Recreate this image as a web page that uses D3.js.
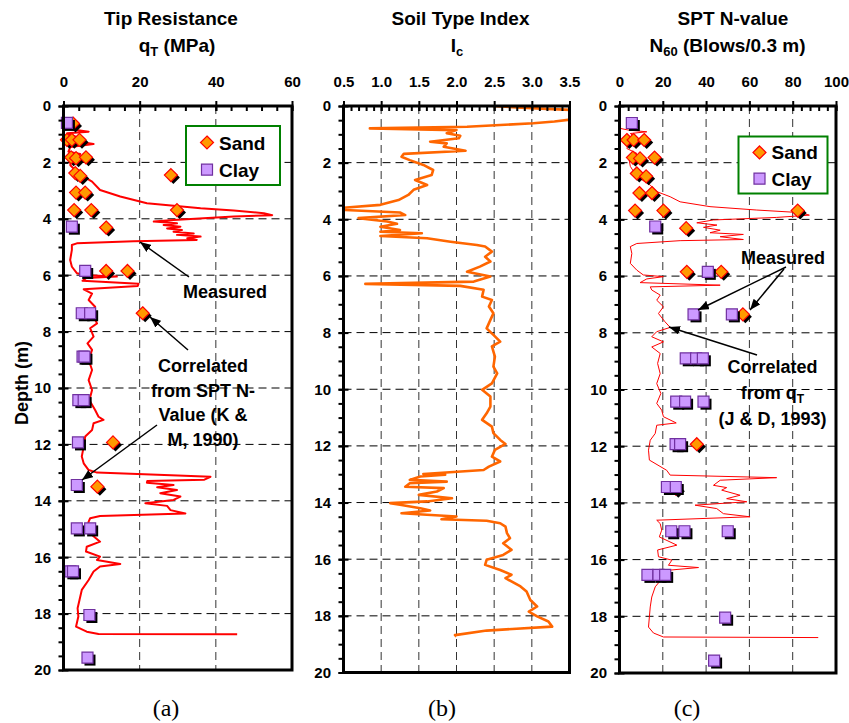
<!DOCTYPE html>
<html><head><meta charset="utf-8">
<script src="https://cdn.jsdelivr.net/npm/d3@7"></script>
<style>
body{margin:0;background:#fff}
svg{display:block}
text{font-family:"Liberation Sans",Arial,sans-serif}
</style>
</head><body>
<svg id="chart" width="849" height="723"></svg>
<script>
// ---------------- DATA ----------------
// Measured cone tip resistance qT (MPa) vs depth (m): [depth, value]
const qtMeasured = [[0,0.2],[0.3,0],[0.6,0.5],[0.8,0.6],[0.91,6.6],[0.97,1],[1.15,4.4],[1.2,0.8],[1.35,7.9],[1.45,1.8],[1.62,1.3],[1.7,4.4],[1.8,1.8],[2.1,1.8],[2.39,3.9],[2.68,7.5],[2.98,9.6],[3.21,14.9],[3.45,21.9],[3.63,36],[3.71,44.7],[3.8,52.6],[3.87,54.8],[3.92,44.7],[4.04,28.9],[4.1,23.7],[4.16,29.8],[4.22,26.3],[4.28,30.7],[4.34,27.2],[4.4,31.1],[4.46,28.9],[4.52,34.2],[4.57,29.8],[4.63,36],[4.69,32.5],[4.75,35],[4.8,18.4],[4.87,3.5],[4.93,2.2],[5.1,2.2],[5.46,1.75],[5.7,2.2],[5.93,3.5],[6.0,6.1],[6.05,14],[6.1,6],[6.2,5],[6.3,19.7],[6.38,19.5],[6.5,5.3],[6.65,7.5],[6.88,6.6],[7.12,8.3],[7.35,7.5],[7.71,8.8],[7.88,7.0],[8.18,7.9],[8.42,6.3],[8.65,7.5],[9.0,6.6],[9.36,7.5],[9.72,6.6],[10.07,7.5],[10.43,6.8],[10.78,8.3],[11.02,9.2],[11.13,10.5],[11.25,7.9],[11.49,7.5],[11.72,5.7],[12.08,5.3],[12.43,4.8],[12.67,5.3],[12.91,6.6],[13.0,8.8],[13.1,30],[13.15,38.6],[13.25,37],[13.3,22],[13.36,21.9],[13.44,28.9],[13.52,24.6],[13.62,29.8],[13.73,25.4],[13.85,30.7],[13.97,28.9],[14.09,21.5],[14.18,27.2],[14.33,28.1],[14.45,32],[14.54,9.6],[14.62,7],[14.74,6.6],[14.98,6.3],[15.21,7.5],[15.45,9.6],[15.63,6.1],[15.8,5.9],[15.98,9.6],[16.1,8.8],[16.24,14.9],[16.33,9.6],[16.51,7.9],[16.81,6.6],[17.16,4.8],[17.52,4.2],[17.81,3.7],[18.1,3.9],[18.46,3.3],[18.64,6.1],[18.72,9.2],[18.73,45.6]];
// qT correlated from SPT N-value (K & M, 1990)
const qtSand = [[0.62,2.5],[1.2,0.9],[1.2,2.2],[1.2,4.2],[1.82,2.0],[1.85,3.3],[1.82,5.9],[2.38,3.1],[2.48,4.4],[2.45,28.2],[3.07,3.3],[3.07,5.7],[3.69,2.8],[3.69,7.3],[3.69,29.8],[4.31,11.2],[5.85,11.2],[5.85,16.8],[7.35,20.8],[11.93,13],[13.5,8.9]];
const qtClay = [[0.6,0.9],[4.28,2.2],[5.85,5.7],[7.35,4.8],[7.35,7.0],[8.89,5.0],[8.89,5.5],[10.43,3.9],[10.43,5.3],[11.93,3.8],[13.44,3.5],[14.98,3.5],[14.98,7.0],[16.5,1.8],[16.5,2.5],[18.05,6.8],[19.56,6.3]];
// Soil type index Ic
const icProfile = [[0,2.48],[0.05,2.8],[0.1,3.2],[0.15,3.6],[0.45,3.6],[0.55,3.3],[0.61,3.02],[0.67,2.58],[0.73,2.14],[0.79,0.85],[0.85,2.0],[0.96,1.87],[1.05,2.05],[1.14,2.03],[1.26,1.65],[1.32,1.87],[1.44,1.83],[1.58,2.12],[1.69,1.3],[1.79,1.27],[1.91,1.38],[2.08,1.56],[2.26,1.69],[2.44,1.67],[2.61,1.45],[2.79,1.61],[2.96,1.43],[3.14,1.36],[3.32,1.23],[3.49,0.99],[3.59,0.5],[3.67,0.52],[3.76,1.25],[3.85,1.32],[3.96,0.7],[4.08,1.08],[4.16,1.21],[4.26,0.99],[4.38,1.25],[4.44,0.99],[4.49,1.54],[4.59,0.99],[4.67,1.61],[4.79,1.92],[4.91,2.27],[4.96,2.38],[5.14,2.47],[5.32,2.38],[5.49,2.45],[5.67,2.31],[5.85,2.14],[6.02,2.45],[6.2,2.23],[6.28,0.79],[6.35,2.05],[6.49,2.36],[6.73,2.34],[6.85,2.47],[7.08,2.43],[7.32,2.49],[7.55,2.45],[7.85,2.4],[8.08,2.49],[8.32,2.58],[8.49,2.47],[8.85,2.51],[9.2,2.49],[9.44,2.54],[9.79,2.47],[10.02,2.34],[10.26,2.45],[10.61,2.45],[10.85,2.4],[11.08,2.34],[11.32,2.47],[11.55,2.49],[11.79,2.58],[11.93,2.65],[12.14,2.51],[12.38,2.47],[12.55,2.58],[12.73,2.43],[12.85,2.36],[12.99,1.56],[13.02,1.85],[13.08,1.52],[13.2,1.38],[13.26,1.87],[13.32,1.38],[13.44,1.32],[13.49,1.83],[13.61,1.74],[13.73,1.5],[13.85,1.94],[13.96,1.61],[14.02,1.12],[14.08,1.25],[14.2,1.52],[14.28,1.65],[14.38,1.27],[14.49,2.0],[14.59,1.8],[14.64,2.4],[14.73,2.58],[14.85,2.65],[15.08,2.67],[15.26,2.71],[15.44,2.62],[15.67,2.73],[15.85,2.62],[16.02,2.4],[16.2,2.38],[16.38,2.58],[16.55,2.73],[16.67,2.65],[16.96,2.85],[17.14,2.93],[17.44,2.98],[17.67,3.07],[17.85,2.96],[18.02,3.07],[18.2,3.22],[18.38,3.27],[18.52,2.4],[18.68,1.98],[18.73,2.0]];
// N60 correlated from qT (J & D, 1993)
const nCorrelated = [[0,0],[0.79,0.3],[0.85,4.2],[0.91,12.6],[0.97,5],[1.15,8],[1.26,14.2],[1.34,4.2],[1.5,3.4],[1.67,8],[1.79,4.2],[2.13,5],[2.49,8],[2.79,14.2],[3.02,17.2],[3.2,23.4],[3.38,28],[3.55,41.8],[3.67,63.4],[3.76,83.4],[3.85,87.7],[3.93,72.6],[4.02,43.4],[4.12,35.7],[4.2,45],[4.28,38.8],[4.38,46.5],[4.47,41.8],[4.53,57.2],[4.61,46.5],[4.71,57.2],[4.75,28],[4.85,8],[4.96,5],[5.2,5.7],[5.55,5],[5.79,8],[5.96,11],[6.02,20.3],[6.1,12.6],[6.23,9.5],[6.32,46.5],[6.38,14.2],[6.49,14.9],[6.67,18.8],[6.85,17.2],[7.08,20.3],[7.32,18],[7.61,21],[7.81,23.4],[7.96,17.2],[8.14,14.9],[8.32,20.3],[8.5,14.9],[8.73,18.8],[9.08,17.6],[9.44,18.8],[9.79,17.2],[10.14,19.1],[10.49,17.2],[10.73,19.5],[10.96,20.3],[11.18,26.2],[11.26,17.2],[11.55,16.5],[11.79,14.2],[12.14,13.4],[12.49,13.8],[12.85,21.8],[13.02,23.4],[13.11,72.6],[13.2,46.5],[13.38,43.4],[13.46,49.5],[13.55,47.2],[13.73,55.7],[13.85,49.5],[13.96,58.8],[14.08,34.9],[14.2,44.9],[14.38,48],[14.49,60.3],[14.61,17.2],[14.73,18.8],[14.96,19.5],[15.2,18.4],[15.49,26.5],[15.66,17.6],[15.9,18],[16.02,24.2],[16.2,22.6],[16.28,36.5],[16.37,23.4],[16.61,20.3],[16.96,16.5],[17.32,14.9],[17.67,14.2],[18.02,13.8],[18.38,13.4],[18.59,15.7],[18.73,20.3],[18.75,91.8]];
// Measured SPT N60
const nSand = [[1.2,3.4],[1.2,6.5],[1.2,11.4],[1.82,6.2],[1.85,9.5],[1.82,16.2],[2.38,8],[2.48,12.3],[3.07,9.2],[3.07,15],[3.69,7.2],[3.69,20.3],[3.69,82.3],[4.31,30.8],[5.85,31.1],[5.85,47],[7.35,57],[11.93,35.7],[13.5,26]];
const nClay = [[0.6,5.7],[4.25,16.5],[5.85,40.8],[7.35,34.2],[7.35,51.9],[8.9,30.6],[8.9,35.4],[8.9,38.5],[10.43,26.2],[10.43,30.3],[10.43,38.8],[11.93,25.9],[11.93,28],[13.44,21.9],[13.44,26],[15.0,23.9],[15.0,30],[15.0,50],[16.54,12.9],[16.54,18],[16.54,21.1],[18.05,48.8],[19.56,43.7]];
// Tick values
const depthTicks = d3.range(0, 20.01, 2);
const depthMinor = d3.range(0, 20.01, 0.5);
const depthGrid = d3.range(2, 19, 2);
const qtTicks = [0, 20, 40, 60];
const qtMinor = d3.range(0, 60.01, 4);
const qtGrid = [20, 40];
const icTicks = [0.5, 1.0, 1.5, 2.0, 2.5, 3.0, 3.5];
const icMinor = d3.range(5, 35.01, 1).map(v => v / 10);
const icGrid = [1.0, 1.5, 2.0, 2.5, 3.0];
const nTicks = [0, 20, 40, 60, 80, 100];
const nMinor = d3.range(0, 100.01, 4);
const nGrid = [20, 40, 60, 80];

// ---------------- DRAW ----------------
const svg = d3.select("#chart");
const defs = svg.append("defs");
defs.append("marker").attr("id", "arr").attr("viewBox", "0 0 10 8")
  .attr("refX", 10).attr("refY", 4).attr("markerWidth", 11).attr("markerHeight", 9)
  .attr("markerUnits", "userSpaceOnUse").attr("orient", "auto")
  .append("path").attr("d", "M0,0 L10,4 L0,8 Z").attr("fill", "#000");

const diamondPath = "M0,-6.5 L6.5,0 L0,6.5 L-6.5,0 Z";
const squarePath = "M-5.5,-5.5 H5.5 V5.5 H-5.5 Z";

function drawPanel(o) {
  const x = d3.scaleLinear().domain(o.xDomain).range([o.left, o.right]);
  const y = d3.scaleLinear().domain([0, 20]).range([o.top, o.bottom]);
  const g = svg.append("g");
  const clipId = "clip" + o.id;
  defs.append("clipPath").attr("id", clipId).append("rect")
    .attr("x", o.left).attr("y", o.top).attr("width", o.right - o.left).attr("height", o.bottom - o.top);

  // grid
  g.append("g").selectAll("line").data(depthGrid).join("line")
    .attr("x1", o.left).attr("x2", o.right).attr("y1", d => y(d)).attr("y2", d => y(d))
    .attr("stroke", "#000").attr("stroke-width", 1).attr("stroke-dasharray", "8,5");
  g.append("g").selectAll("line").data(o.grid).join("line")
    .attr("y1", o.top).attr("y2", o.bottom).attr("x1", d => x(d)).attr("x2", d => x(d))
    .attr("stroke", "#333").attr("stroke-width", 1).attr("stroke-dasharray", "8,5");

  // line
  const line = d3.line().x(d => x(d[1])).y(d => y(d[0]));
  g.append("path").datum(o.line).attr("d", line).attr("fill", "none")
    .attr("stroke", o.lineColor).attr("stroke-width", o.lineWidth)
    .attr("stroke-linejoin", "round").attr("clip-path", `url(#${clipId})`);

  // markers
  function markers(data, path, fill, stroke) {
    const mg = g.append("g");
    data.forEach(d => {
      mg.append("path").attr("d", path).attr("transform", `translate(${x(d[1]) + 2.5},${y(d[0]) + 2.5})`).attr("fill", "#000");
      mg.append("path").attr("d", path).attr("transform", `translate(${x(d[1])},${y(d[0])})`)
        .attr("fill", fill).attr("stroke", stroke).attr("stroke-width", 1.2);
    });
  }
  if (o.sand) markers(o.sand, diamondPath, "#FF9900", "#FF0000");
  if (o.clay) markers(o.clay, squarePath, "#CC99FF", "#7030A0");

  // axes
  const fmt = o.fmt;
  const topMaj = g.append("g").attr("transform", `translate(0,${o.top})`)
    .call(d3.axisTop(x).tickValues(o.ticks).tickSize(5).tickPadding(13.7).tickFormat(fmt));
  g.append("g").attr("transform", `translate(0,${o.top})`)
    .call(d3.axisTop(x).tickValues(o.ticks).tickSize(-5).tickFormat(""));
  g.append("g").attr("transform", `translate(0,${o.top})`)
    .call(d3.axisTop(x).tickValues(o.minor).tickSize(-5).tickFormat(""));
  g.append("g").attr("transform", `translate(${o.left},0)`)
    .call(d3.axisLeft(y).tickValues(depthTicks).tickSize(5).tickPadding(7.5).tickFormat(d3.format("d")));
  g.append("g").attr("transform", `translate(${o.left},0)`)
    .call(d3.axisLeft(y).tickValues(depthTicks).tickSize(-5).tickFormat(""));
  g.append("g").attr("transform", `translate(${o.left},0)`)
    .call(d3.axisLeft(y).tickValues(depthMinor).tickSize(5).tickFormat(""));
  g.selectAll(".domain").remove();
  g.selectAll(".tick line").attr("stroke", "#000").attr("stroke-width", 2);
  g.selectAll(".tick text").attr("font-size", 15).attr("font-weight", "bold").attr("fill", "#000")
    .style("font-family", '"Liberation Sans", Arial, sans-serif');

  // frame
  g.append("rect").attr("x", o.left).attr("y", o.top).attr("width", o.right - o.left).attr("height", o.bottom - o.top)
    .attr("fill", "none").attr("stroke", "#000").attr("stroke-width", 3);

  // caption
  g.append("text").attr("x", o.capX).attr("y", 716).attr("text-anchor", "middle")
    .style("font-family", '"Liberation Serif","Times New Roman",serif').attr("font-size", 24).text(o.caption);
  return { x, y, g };
}

function legend(g, bx, by, bw, bh) {
  g.append("rect").attr("x", bx).attr("y", by).attr("width", bw).attr("height", bh)
    .attr("fill", "#fff").attr("stroke", "#008000").attr("stroke-width", 2);
  const mx = bx + 21, y1 = by + bh * 0.28, y2 = by + bh * 0.74;
  g.append("path").attr("d", diamondPath).attr("transform", `translate(${mx},${y1})`).attr("fill", "#FF9900").attr("stroke", "#FF0000").attr("stroke-width", 1.2);
  g.append("path").attr("d", squarePath).attr("transform", `translate(${mx},${y2})`).attr("fill", "#CC99FF").attr("stroke", "#7030A0").attr("stroke-width", 1.2);
  g.append("text").attr("x", mx + 12).attr("y", y1 + 7).attr("font-size", 19).attr("font-weight", "bold").text("Sand");
  g.append("text").attr("x", mx + 12).attr("y", y2 + 7).attr("font-size", 19).attr("font-weight", "bold").text("Clay");
}

function title(lines) {
  lines.forEach(l => {
    const t = svg.append("text").attr("x", l.x).attr("y", l.y).attr("text-anchor", "middle")
      .attr("font-size", 19).attr("font-weight", "bold");
    l.parts.forEach(p => {
      const s = t.append("tspan").text(p.t);
      if (p.sub) s.attr("font-size", 13).attr("dy", 4);
      if (p.after) s.attr("dy", -4);
    });
  });
}

function annot(lines, x, y0, dy) {
  lines.forEach((l, i) => {
    const t = svg.append("text").attr("x", x).attr("y", y0 + i * dy).attr("text-anchor", "middle")
      .attr("font-size", 18).attr("font-weight", "bold");
    if (Array.isArray(l)) {
      l.forEach(p => {
        const s = t.append("tspan").text(p.t);
        if (p.sub) s.attr("font-size", 12).attr("dy", 4);
      });
    } else t.text(l);
  });
}
function arrow(x1, y1, x2, y2) {
  svg.append("line").attr("x1", x1).attr("y1", y1).attr("x2", x2).attr("y2", y2)
    .attr("stroke", "#000").attr("stroke-width", 1.5).attr("marker-end", "url(#arr)");
}

const pa = drawPanel({ id: "a", left: 63.5, right: 292, top: 106, bottom: 670, xDomain: [0, 60],
  ticks: qtTicks, minor: qtMinor, grid: qtGrid, fmt: d3.format("d"),
  line: qtMeasured, lineColor: "#FF0000", lineWidth: 2, sand: qtSand, clay: qtClay, capX: 166, caption: "(a)" });
const pb = drawPanel({ id: "b", left: 343.5, right: 569.5, top: 106, bottom: 672.5, xDomain: [0.5, 3.5],
  ticks: icTicks, minor: icMinor, grid: icGrid, fmt: d3.format(".1f"),
  line: icProfile, lineColor: "#FF6600", lineWidth: 2.6, capX: 442, caption: "(b)" });
const pc = drawPanel({ id: "c", left: 619.5, right: 836, top: 106, bottom: 673, xDomain: [0, 100],
  ticks: nTicks, minor: nMinor, grid: nGrid, fmt: d3.format("d"),
  line: nCorrelated, lineColor: "#FF0000", lineWidth: 1, sand: nSand, clay: nClay, capX: 687, caption: "(c)" });

legend(pa.g, 186, 126, 94, 59);
legend(pc.g, 738.5, 136.5, 89, 57);

title([
  { x: 171, y: 25, parts: [{ t: "Tip Resistance" }] },
  { x: 177, y: 52, parts: [{ t: "q" }, { t: "T", sub: true }, { t: " (MPa)", after: true }] },
  { x: 460.5, y: 25, parts: [{ t: "Soil Type Index" }] },
  { x: 457, y: 52, parts: [{ t: "I" }, { t: "c", sub: true }] },
  { x: 733, y: 25, parts: [{ t: "SPT N-value" }] },
  { x: 727.5, y: 52, parts: [{ t: "N" }, { t: "60", sub: true }, { t: " (Blows/0.3 m)", after: true }] }
]);

svg.append("text").attr("transform", "translate(28,383) rotate(-90)").attr("text-anchor", "middle")
  .attr("font-size", 18).attr("font-weight", "bold").text("Depth (m)");

// annotations panel (a)
annot(["Measured"], 225, 298, 0);
arrow(189, 277, 140, 242);
annot(["Correlated", "from SPT N-", "Value (K &", "M, 1990)"], 203, 372, 24.5);
arrow(188, 350, 150, 317);
arrow(157, 425, 82, 480);
// annotations panel (c)
annot(["Measured"], 783, 264, 0);
arrow(786, 267, 698, 310);
arrow(784, 269, 750, 310);
annot(["Correlated", [{ t: "from q" }, { t: "T", sub: true }], "(J & D, 1993)"], 772.5, 373, 26);
arrow(757, 355, 669, 327);
</script>
</body></html>
